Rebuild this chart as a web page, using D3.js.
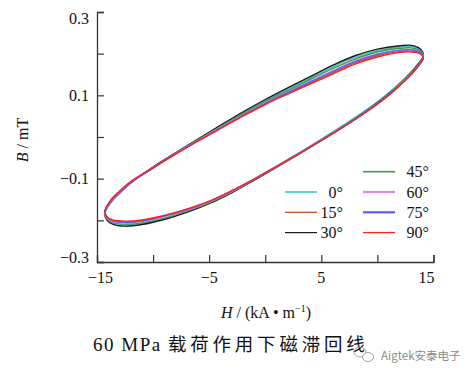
<!DOCTYPE html>
<html><head><meta charset="utf-8">
<script src="https://cdn.jsdelivr.net/npm/d3@7"></script>
<style>
html,body{margin:0;padding:0;background:#fff;}
svg{display:block;}
</style></head>
<body><svg id="c" width="473" height="378"></svg>
<script>
// ---- data ----
const xTickValues = [-15, -10, -5, 0, 5, 10, 15];
const xTickLabels = ["−15", "", "−5", "", "5", "", "15"];
const yTickValues = [0.3, 0.2, 0.1, 0, -0.1, -0.2, -0.3];
const yTickLabels = ["0.3", "", "0.1", "", "−0.1", "", "−0.3"];

const seriesNames = ["0°", "15°", "30°", "45°", "60°", "75°", "90°"];
const seriesColors = ["#3fc6c6", "#d24f2a", "#1a1a1a", "#3a9c3a", "#dc8ee0", "#5c5cff", "#ff1f1f"];

// H grid of the descending (upper) branch and the ascending (lower) branch, kA/m
const hUpper = [14.1, 13.8, 13, 12, 10, 8, 6, 4, 2, 0, -2, -4, -6, -8, -10, -12, -13, -13.8, -14.3];
const hLower = [-14.3, -14.1, -13.6, -12.5, -11, -9, -7, -5, -3, -1, 1, 3, 5, 7, 9, 11, 12.5, 13.5, 14.1];

// B values (mT) for each angle
const upper0  = [0.195, 0.210, 0.217, 0.216, 0.207, 0.191, 0.168, 0.141, 0.114, 0.087, 0.058, 0.026, -0.006, -0.039, -0.073, -0.110, -0.135, -0.158, -0.182];
const lower0  = [-0.182, -0.198, -0.206, -0.210, -0.207, -0.195, -0.178, -0.157, -0.131, -0.101, -0.070, -0.038, -0.005, 0.029, 0.065, 0.106, 0.143, 0.172, 0.195];
const upper15 = [0.191, 0.202, 0.206, 0.205, 0.195, 0.178, 0.154, 0.129, 0.105, 0.080, 0.051, 0.021, -0.009, -0.041, -0.074, -0.109, -0.132, -0.154, -0.179];
const lower15 = [-0.179, -0.193, -0.200, -0.204, -0.201, -0.189, -0.174, -0.155, -0.130, -0.101, -0.071, -0.040, -0.008, 0.025, 0.060, 0.101, 0.137, 0.166, 0.191];
const upper30 = [0.196, 0.212, 0.220, 0.219, 0.211, 0.195, 0.172, 0.145, 0.118, 0.090, 0.060, 0.028, -0.005, -0.038, -0.072, -0.110, -0.135, -0.158, -0.182];
const lower30 = [-0.182, -0.200, -0.209, -0.214, -0.210, -0.198, -0.181, -0.160, -0.134, -0.104, -0.073, -0.041, -0.008, 0.026, 0.062, 0.103, 0.140, 0.170, 0.196];
const upper45 = [0.194, 0.208, 0.214, 0.213, 0.204, 0.187, 0.164, 0.138, 0.111, 0.085, 0.056, 0.025, -0.007, -0.039, -0.073, -0.110, -0.134, -0.157, -0.181];
const lower45 = [-0.181, -0.197, -0.205, -0.209, -0.206, -0.194, -0.178, -0.158, -0.132, -0.103, -0.072, -0.041, -0.008, 0.026, 0.061, 0.102, 0.139, 0.168, 0.194];
const upper60 = [0.193, 0.206, 0.210, 0.209, 0.200, 0.183, 0.159, 0.134, 0.108, 0.082, 0.053, 0.023, -0.008, -0.040, -0.074, -0.110, -0.134, -0.157, -0.181];
const lower60 = [-0.180, -0.195, -0.203, -0.207, -0.203, -0.192, -0.176, -0.156, -0.131, -0.102, -0.072, -0.040, -0.008, 0.025, 0.061, 0.101, 0.138, 0.167, 0.193];
const upper75 = [0.192, 0.205, 0.209, 0.208, 0.198, 0.181, 0.157, 0.132, 0.107, 0.081, 0.052, 0.022, -0.009, -0.040, -0.074, -0.110, -0.134, -0.156, -0.180];
const lower75 = [-0.179, -0.194, -0.201, -0.205, -0.202, -0.190, -0.175, -0.155, -0.130, -0.102, -0.071, -0.040, -0.008, 0.025, 0.061, 0.101, 0.137, 0.166, 0.192];
const upper90 = [0.190, 0.200, 0.204, 0.203, 0.192, 0.175, 0.151, 0.127, 0.103, 0.078, 0.050, 0.020, -0.010, -0.041, -0.074, -0.107, -0.130, -0.152, -0.178];
const lower90 = [-0.178, -0.192, -0.199, -0.202, -0.199, -0.188, -0.173, -0.154, -0.129, -0.101, -0.071, -0.040, -0.008, 0.025, 0.060, 0.100, 0.136, 0.165, 0.190];

const uppers = [upper0, upper15, upper30, upper45, upper60, upper75, upper90];
const lowers = [lower0, lower15, lower30, lower45, lower60, lower75, lower90];

// ---- drawing ----
const SERIF = "'Liberation Serif','Times New Roman','DejaVu Serif',serif";
const svg = d3.select("#c");
const x = d3.scaleLinear().domain([-15, 15]).range([97, 433.5]);
const y = d3.scaleLinear().domain([-0.3, 0.3]).range([262, 12]);

const loopLine = d3.line().x(d => x(d[0])).y(d => y(d[1])).curve(d3.curveCatmullRomClosed.alpha(0.5));
const gLoops = svg.append("g");
seriesNames.forEach((name, i) => {
  const up = hUpper.map((h, k) => [h, uppers[i][k]]);
  const lo = hLower.map((h, k) => [h, lowers[i][k]]).slice(1, -1);
  const pts = up.concat(lo);
  gLoops.append("path")
    .attr("d", loopLine(pts))
    .attr("fill", "none")
    .attr("stroke", seriesColors[i])
    .attr("stroke-width", 1.4)
    .attr("stroke-linejoin", "round");
});

// axes
const axisColor = "#333";
const yAxis = d3.axisRight(y).tickValues(yTickValues).tickSize(7).tickFormat("");
const gy = svg.append("g").attr("transform", "translate(97,0)").call(yAxis);
const xAxis = d3.axisTop(x).tickValues(xTickValues).tickSize(7).tickFormat("");
const gx = svg.append("g").attr("transform", "translate(0,262)").call(xAxis);
[gx, gy].forEach(g => {
  g.select(".domain").attr("stroke", axisColor).attr("stroke-width", 1.3);
  g.selectAll(".tick line").attr("stroke", axisColor).attr("stroke-width", 1.2);
});

function txt(xp, yp, size) {
  return svg.append("text").attr("x", xp).attr("y", yp)
    .style("font-family", SERIF).style("font-size", size + "px").style("fill", "#111");
}

// y tick labels (extremes nudged inward as in the original)
yTickValues.forEach((v, i) => {
  if (!yTickLabels[i]) return;
  let dy = 5.5;
  if (i === 0) dy = 12;
  if (i === yTickValues.length - 1) dy = 1;
  txt(89, y(v) + dy, 16).attr("text-anchor", "end").text(yTickLabels[i]);
});
// x tick labels
xTickValues.forEach((v, i) => {
  if (!xTickLabels[i]) return;
  let dx = 0;
  if (i === 0) dx = 3.5;
  if (i === xTickValues.length - 1) dx = -7;
  txt(x(v) + dx, 283, 16).attr("text-anchor", "middle").text(xTickLabels[i]);
});

// axis titles
const xt = txt(266, 318, 16).attr("text-anchor", "middle");
xt.append("tspan").style("font-style", "italic").text("H");
xt.append("tspan").text(" / (kA • m");
xt.append("tspan").style("font-size", "10px").attr("dy", -6).text("−1");
xt.append("tspan").attr("dy", 6).text(")");

const yt = txt(0, 0, 16).attr("transform", "translate(28,140) rotate(-90)").attr("text-anchor", "middle");
yt.append("tspan").style("font-style", "italic").text("B");
yt.append("tspan").text(" / mT");

// legend
const legendRows = [
  {i: 3, col: 1, row: -1},
  {i: 0, col: 0, row: 0}, {i: 4, col: 1, row: 0},
  {i: 1, col: 0, row: 1}, {i: 5, col: 1, row: 1},
  {i: 2, col: 0, row: 2}, {i: 6, col: 1, row: 2}
];
const legendWidths = [1.6, 1.3, 1.2, 1.6, 2.2, 2.2, 1.3];
legendRows.forEach(r => {
  const ly = 192 + r.row * 20.3;
  const lx0 = r.col === 0 ? 285 : 363;
  const tx = r.col === 0 ? 343 : 429;
  svg.append("line").attr("x1", lx0).attr("x2", lx0 + 32).attr("y1", ly).attr("y2", ly)
    .attr("stroke", seriesColors[r.i]).attr("stroke-width", legendWidths[r.i]);
  txt(tx, ly + 5.5, 16).attr("text-anchor", "end").text(seriesNames[r.i]);
});

// caption
const cap = txt(93, 351, 19);
cap.append("tspan").attr("letter-spacing", 1.5).text("60 MPa ");
cap.append("tspan").style("font-family", "'Noto Sans CJK SC',sans-serif").style("font-size", "18.5px")
  .attr("letter-spacing", 3.8).text("载荷作用下磁滞回线");

// watermark
const wm = svg.append("g").attr("fill", "none").attr("stroke", "#9a9a9a").attr("stroke-width", 0.9);
wm.append("ellipse").attr("cx", 360).attr("cy", 352).attr("rx", 6).attr("ry", 5);
wm.append("ellipse").attr("cx", 368).attr("cy", 357).attr("rx", 5.5).attr("ry", 4.5).attr("fill", "#fff");
svg.append("text").attr("x", 381).attr("y", 360)
  .style("font-family", "'Noto Sans CJK SC','DejaVu Sans',sans-serif").style("font-size", "11.5px")
  .style("fill", "#8a8a8a").text("Aigtek安泰电子");
</script></body></html>
